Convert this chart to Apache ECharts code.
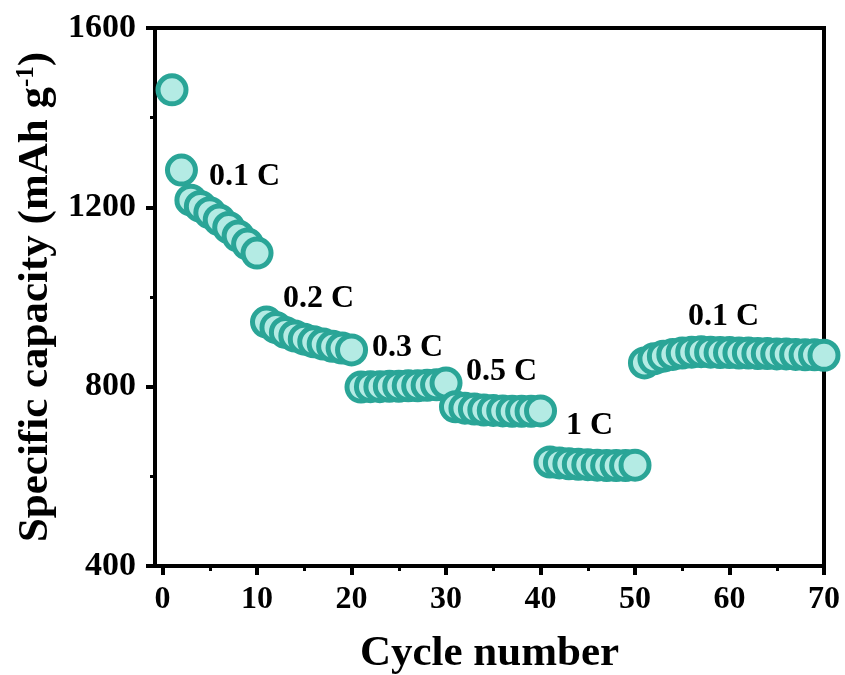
<!DOCTYPE html>
<html>
<head>
<meta charset="utf-8">
<script src="https://cdn.jsdelivr.net/npm/echarts@6/dist/echarts.min.js"></script>
<style>html,body{margin:0;padding:0;background:#fff;}#c{width:845px;height:675px;}</style>
</head>
<body>
<div id="c"></div>
<script>
// ---- data ----
const cycles = Array.from({length: 70}, (_, i) => i + 1);
const capacity01a = [1462, 1283, 1216, 1202, 1188, 1172, 1155, 1136, 1118, 1098];
const capacity02 = [944, 932, 921, 913, 906, 900, 895, 890, 886, 882];
const capacity03 = [799, 800, 800, 801, 801, 802, 802, 803, 804, 808];
const capacity05 = [755, 752, 750, 748, 747, 746, 745, 745, 745, 746];
const capacity1 = [632, 630, 628, 627, 626, 625, 624, 624, 624, 625];
const capacity01b = [853, 862, 868, 872, 875, 877, 878, 877, 876, 876, 875, 875, 874, 874, 873, 873, 872, 871, 871, 870];
const capacity = [].concat(capacity01a, capacity02, capacity03, capacity05, capacity1, capacity01b);
const xTicks = [0, 10, 20, 30, 40, 50, 60, 70];
const xMinorTicks = [5, 15, 25, 35, 45, 55, 65];
const yTicks = [400, 800, 1200, 1600];
const rateLabels = ['0.1 C', '0.2 C', '0.3 C', '0.5 C', '1 C', '0.1 C'];

const FONT = 'Liberation Serif';
const chart = echarts.init(document.getElementById('c'), null, {renderer: 'canvas'});

const labelPos = [[209, 191], [283, 313], [372, 362], [466, 386], [566, 440], [688, 331]];

chart.setOption({
  animation: false,
  backgroundColor: '#fff',
  grid: {left: 155, right: 21, top: 28, bottom: 109, show: true, borderColor: '#000', borderWidth: 4, backgroundColor: 'transparent', outerBoundsMode: 'none', containLabel: false},
  xAxis: [{
    type: 'value', min: -0.8, max: 70,
    axisLine: {show: true, onZero: false, lineStyle: {color: '#000', width: 4}},
    axisTick: {show: true, customValues: xTicks, length: 9, lineStyle: {color: '#000', width: 4}},
    axisLabel: {customValues: xTicks, color: '#000', fontFamily: FONT, fontWeight: 'bold', fontSize: 32, margin: 18},
    splitLine: {show: false},
    name: 'Cycle number', nameLocation: 'middle', nameGap: 66,
    nameTextStyle: {color: '#000', fontFamily: FONT, fontWeight: 'bold', fontSize: 43}
  }, {
    type: 'value', min: -0.8, max: 70, position: 'bottom',
    axisLine: {show: false},
    axisTick: {show: true, customValues: xMinorTicks, length: 5, lineStyle: {color: '#000', width: 3}},
    axisLabel: {show: false},
    splitLine: {show: false}
  }],
  yAxis: {
    type: 'value', min: 400, max: 1600, interval: 400,
    axisLine: {show: true, onZero: false, lineStyle: {color: '#000', width: 4}},
    axisTick: {show: true, length: 9, lineStyle: {color: '#000', width: 4}},
    minorTick: {show: true, splitNumber: 2, length: 5, lineStyle: {color: '#000', width: 3}},
    axisLabel: {color: '#000', fontFamily: FONT, fontWeight: 'bold', fontSize: 34, margin: 19, formatter: v => String(v)},
    splitLine: {show: false},
    name: '{a|Specific capacity (mAh g}{s|-1}{a|)}', nameLocation: 'middle', nameGap: 92, nameRotate: 90,
    nameTextStyle: {
      color: '#000', fontFamily: FONT, fontWeight: 'bold', fontSize: 43,
      rich: {
        a: {color: '#000', fontFamily: FONT, fontWeight: 'bold', fontSize: 43},
        s: {color: '#000', fontFamily: FONT, fontWeight: 'bold', fontSize: 25, verticalAlign: 'top', padding: [0, 0, 18, 0]}
      }
    }
  },
  series: [{
    type: 'scatter',
    data: cycles.map((c, i) => [c, capacity[i]]),
    symbol: 'circle', symbolSize: 28,
    itemStyle: {color: '#b4ebe4', borderColor: '#2aa597', borderWidth: 5, opacity: 1},
    emphasis: {disabled: true}
  }],
  graphic: rateLabels.map((t, i) => ({
    type: 'text', left: labelPos[i][0], top: labelPos[i][1] - 30,
    style: {text: t, fill: '#000', font: 'bold 32px "' + FONT + '"'}
  }))
});
</script>
</body>
</html>
